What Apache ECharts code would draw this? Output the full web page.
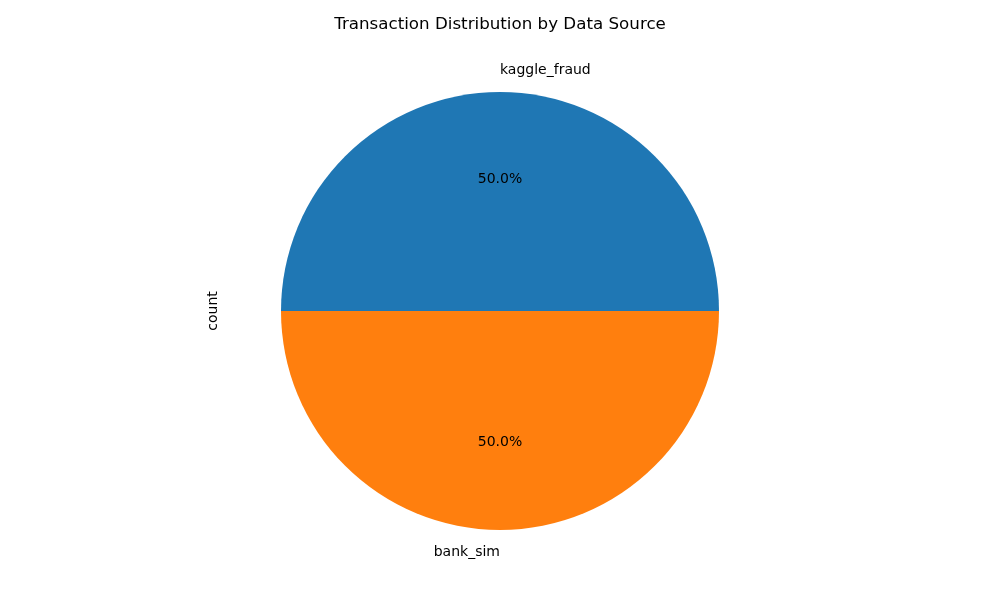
<!DOCTYPE html>
<html>
<head>
<meta charset="utf-8">
<script src="https://cdn.jsdelivr.net/npm/echarts@6/dist/echarts.min.js"></script>
<style>
html, body { margin: 0; padding: 0; background: #fff; }
#chart { width: 1000px; height: 600px; }
</style>
</head>
<body>
<div id="chart"></div>
<script>
// 数据
const sources = ['kaggle_fraud', 'bank_sim'];
const counts = [50000, 50000];
const colors = ['#1f77b4', '#ff7f0e'];

const font = 'DejaVu Sans';
const R = 219; // 饼图半径
const center = [500, 311];

const chart = echarts.init(document.getElementById('chart'));
const pieData = sources.map((name, i) => ({
	name: name,
	value: counts[i],
	itemStyle: { color: colors[i] }
}));

const option = {
	animation: false,
	title: {
		text: 'Transaction Distribution by Data Source',
		left: 'center',
		top: 11,
		textStyle: { fontFamily: font, fontSize: 16.7, fontWeight: 'normal', color: '#000' }
	},
	graphic: [
		{
			// y轴标题
			type: 'text',
			x: 213,
			y: 311,
			rotation: Math.PI / 2,
			style: {
				text: 'count',
				font: '14px "DejaVu Sans"',
				fill: '#000',
				align: 'center',
				verticalAlign: 'middle'
			}
		}
	],
	series: [
		{
			// 扇区 + 名称标签
			type: 'pie',
			center: center,
			radius: [0, R],
			startAngle: 0,
			clockwise: false,
			avoidLabelOverlap: false,
			silent: true,
			itemStyle: { borderWidth: 0 },
			emphasis: { disabled: true },
			label: {
				show: true,
				position: 'outside',
				formatter: '{b}',
				fontFamily: font,
				fontSize: 14,
				color: '#000'
			},
			labelLine: { show: false, length: 22, length2: -5 },
			data: pieData
		},
		{
			// 百分比标签
			type: 'pie',
			center: center,
			radius: [38, R],
			startAngle: 0,
			clockwise: false,
			silent: true,
			emphasis: { disabled: true },
			itemStyle: { color: 'rgba(0,0,0,0)', borderWidth: 0 },
			label: {
				show: true,
				position: 'inside',
				formatter: (p) => p.percent.toFixed(1) + '%',
				fontFamily: font,
				fontSize: 14,
				padding: [2, 0, 0, 0],
				color: '#000'
			},
			labelLine: { show: false },
			data: sources.map((name, i) => ({ name: name, value: counts[i] }))
		}
	]
};
chart.setOption(option);
</script>
</body>
</html>
